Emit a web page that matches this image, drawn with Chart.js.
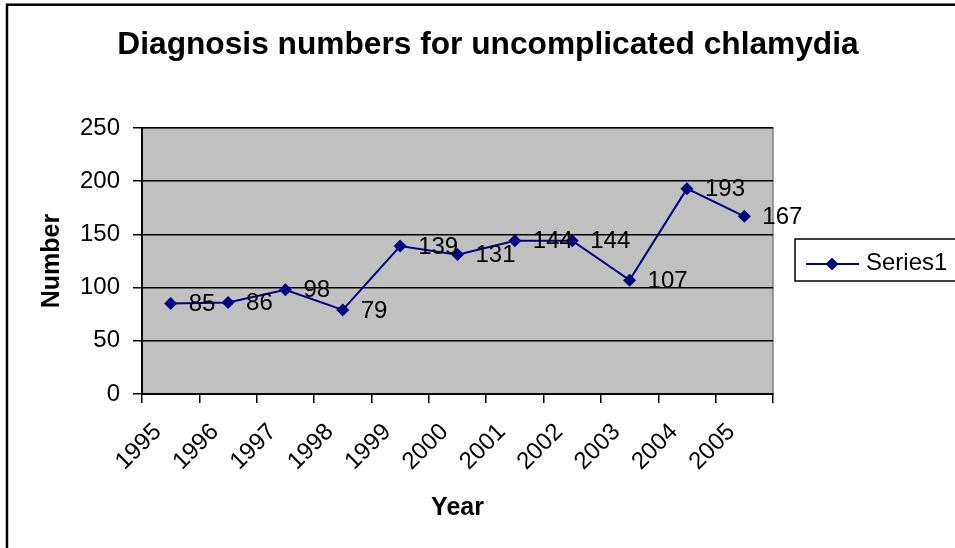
<!DOCTYPE html>
<html>
<head>
<meta charset="utf-8">
<script src="https://cdn.jsdelivr.net/npm/chart.js@4"></script>
<style>
html,body{margin:0;padding:0;background:#fff;}
#wrap{width:955px;height:548px;position:relative;}
</style>
</head>
<body>
<div id="wrap"><canvas id="c" width="955" height="548"></canvas></div>
<script>
const years = ['1995','1996','1997','1998','1999','2000','2001','2002','2003','2004','2005'];
const diagnoses = [85, 86, 98, 79, 139, 131, 144, 144, 107, 193, 167];
const seriesName = 'Series1';
const chartTitle = 'Diagnosis numbers for uncomplicated chlamydia';
const xTitle = 'Year';
const yTitle = 'Number';

const FONT = "'Liberation Sans', Arial, sans-serif";
const NAVY = '#000080';

const plotBg = {
  id: 'plotBg',
  beforeDraw(chart) {
    const {ctx, chartArea: a} = chart;
    ctx.save();
    // outer frame
    ctx.strokeStyle = '#000';
    ctx.lineWidth = 2.5;
    ctx.strokeRect(7, 4.7, 1000, 600);
    ctx.fillStyle = '#C0C0C0';
    ctx.fillRect(a.left, a.top, a.right - a.left, a.bottom - a.top);
    ctx.strokeStyle = '#808080';
    ctx.lineWidth = 1.5;
    ctx.strokeRect(a.left, a.top, a.right - a.left, a.bottom - a.top);
    // chart title, centred on the whole chart
    ctx.fillStyle = '#000';
    ctx.font = 'bold 31.7px ' + FONT;
    ctx.textAlign = 'center';
    ctx.textBaseline = 'middle';
    ctx.fillText(chartTitle, 488, 45);
    ctx.restore();
  },
  afterDraw(chart) {
    const {ctx} = chart;
    const meta = chart.getDatasetMeta(0);
    ctx.save();
    ctx.font = '24px ' + FONT;
    ctx.fillStyle = '#000';
    ctx.textAlign = 'left';
    ctx.textBaseline = 'middle';
    meta.data.forEach((pt, i) => {
      ctx.fillText(String(diagnoses[i]), pt.x + 18, pt.y + 1);
    });
    // legend
    const lx = 795, ly = 239, lw = 170, lh = 42;
    ctx.fillStyle = '#fff';
    ctx.fillRect(lx, ly, lw, lh);
    ctx.strokeStyle = '#000';
    ctx.lineWidth = 1.5;
    ctx.strokeRect(lx, ly, lw, lh);
    const cy = 264;
    ctx.strokeStyle = NAVY;
    ctx.lineWidth = 2;
    ctx.beginPath(); ctx.moveTo(806, cy); ctx.lineTo(859, cy); ctx.stroke();
    ctx.fillStyle = NAVY;
    ctx.beginPath();
    ctx.moveTo(832, cy - 6.5); ctx.lineTo(838.5, cy); ctx.lineTo(832, cy + 6.5); ctx.lineTo(825.5, cy);
    ctx.closePath(); ctx.fill();
    ctx.fillStyle = '#000';
    ctx.font = '24px ' + FONT;
    ctx.fillText(seriesName, 866, 263);
    ctx.restore();
  }
};

new Chart(document.getElementById('c'), {
  type: 'line',
  data: {
    labels: years,
    datasets: [{
      label: seriesName,
      data: diagnoses,
      borderColor: NAVY,
      backgroundColor: NAVY,
      borderWidth: 2,
      pointStyle: 'rectRot',
      pointRadius: 6.5,
      pointHoverRadius: 6.5,
      pointBackgroundColor: NAVY,
      pointBorderColor: NAVY,
      pointBorderWidth: 0,
      tension: 0,
      fill: false
    }]
  },
  options: {
    responsive: false,
    animation: false,
    events: [],
    layout: { padding: { left: 0, right: 182, top: 128, bottom: 0 } },
    plugins: {
      legend: { display: false },
      tooltip: { enabled: false },
      title: { display: false }
    },
    scales: {
      x: {
        type: 'category',
        offset: true,
        afterFit(s) { s.height = 154; },
        grid: {
          offset: true,
          drawOnChartArea: false,
          drawTicks: true,
          tickLength: 9,
          color: '#000',
          lineWidth: 1.5
        },
        border: { display: true, color: '#000', width: 2 },
        ticks: {
          color: '#000',
          font: { family: FONT, size: 24 },
          minRotation: 45,
          maxRotation: 45,
          autoSkip: false,
          padding: 15,
          labelOffset: -13
        },
        title: {
          display: true,
          text: xTitle,
          color: '#000',
          font: { family: FONT, size: 25, weight: 'bold' },
          padding: { top: 0, bottom: 25 }
        }
      },
      y: {
        min: 0,
        max: 250,
        afterFit(s) { s.width = 142; },
        grid: {
          drawOnChartArea: true,
          drawTicks: true,
          tickLength: 9,
          color: '#000',
          lineWidth: 1.5
        },
        border: { display: true, color: '#000', width: 2 },
        ticks: {
          stepSize: 50,
          color: '#000',
          font: { family: FONT, size: 24 },
          padding: 13
        },
        title: {
          display: true,
          text: yTitle,
          color: '#000',
          font: { family: FONT, size: 25, weight: 'bold' },
          padding: { top: 37, bottom: 0 }
        }
      }
    }
  },
  plugins: [plotBg]
});
</script>
</body>
</html>
